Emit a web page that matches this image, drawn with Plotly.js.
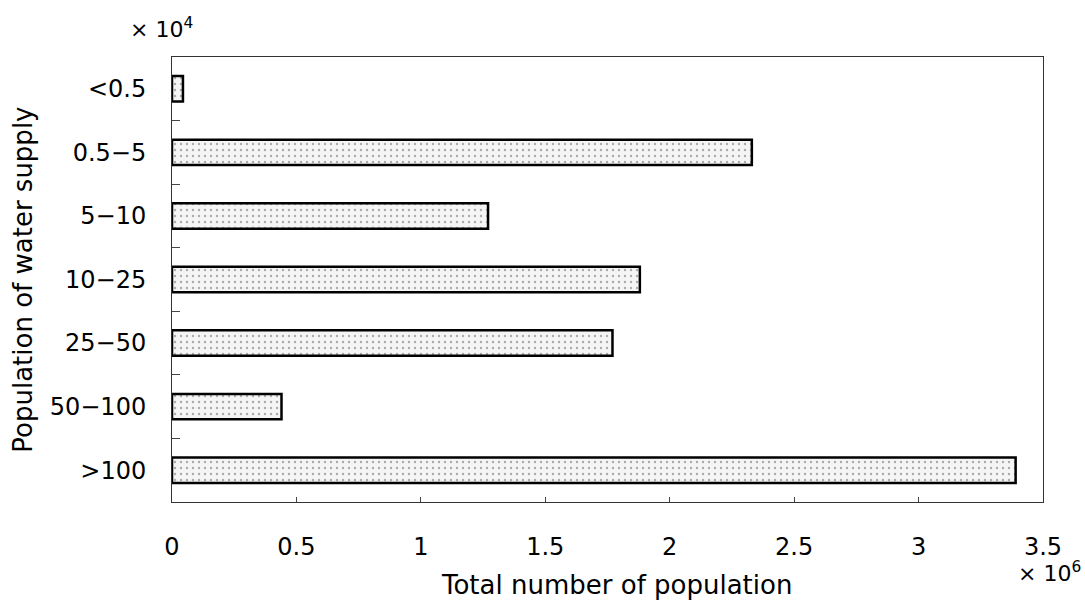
<!DOCTYPE html>
<html>
<head>
<meta charset="utf-8">
<script src="https://cdn.plot.ly/plotly-3.0.1.min.js"></script>
<style>html,body{margin:0;padding:0;background:#fff;}#chart{width:1085px;height:603px;}</style>
</head>
<body>
<div id="chart"></div>
<script>
const categories = ['<0.5', '0.5\u22125', '5\u221210', '10\u221225', '25\u221250', '50\u2212100', '>100'];
const totals = [0.044, 2.33, 1.27, 1.88, 1.77, 0.44, 3.39]; // ×10^6
const xTicks = [0, 0.5, 1, 1.5, 2, 2.5, 3, 3.5];
const xTickLabels = ['0', '0.5', '1', '1.5', '2', '2.5', '3', '3.5'];
const xTitle = 'Total number of population';
const yTitle = 'Population of water supply';

const font = 'DejaVu Sans, Noto Sans, sans-serif';

const trace = {
  type: 'bar',
  orientation: 'h',
  y: categories,
  x: totals,
  width: 0.4,
  marker: {
    color: '#f5f5f5',
    line: {color: '#000', width: 2.5},
    pattern: {shape: '.', fgcolor: '#aaa', bgcolor: '#f5f5f5', size: 6, solidity: 0.12}
  },
  hoverinfo: 'x+y'
};

const layout = {
  width: 1085, height: 603,
  margin: {l: 172, r: 42, t: 57, b: 101},
  paper_bgcolor: '#fff', plot_bgcolor: '#fff',
  showlegend: false,
  font: {family: font, color: '#000', size: 24},
  xaxis: {
    range: [0, 3.5],
    tickvals: xTicks, ticktext: xTickLabels,
    ticks: 'inside', ticklen: 5, tickcolor: '#444',
    showgrid: false, zeroline: false,
    showline: true, linecolor: '#333', linewidth: 1, mirror: true,
    tickfont: {family: font, size: 24},
    ticklabelstandoff: 23
  },
  yaxis: {
    type: 'category',
    categoryorder: 'array', categoryarray: categories,
    autorange: 'reversed',
    range: [6.5, -0.5],
    tickson: 'boundaries',
    ticks: 'inside', ticklen: 8, tickcolor: '#444',
    showgrid: false, zeroline: false,
    showline: true, linecolor: '#333', linewidth: 1, mirror: true,
    tickfont: {family: font, size: 24},
    ticklabelstandoff: 20
  },
  annotations: [
    {xref: 'paper', yref: 'paper', x: 0.51, y: -0.186, xanchor: 'center', yanchor: 'middle',
     text: xTitle, showarrow: false, font: {family: font, size: 26}},
    {xref: 'paper', yref: 'paper', x: -0.172, y: 0.5, xanchor: 'center', yanchor: 'middle', textangle: -90,
     text: yTitle, showarrow: false, font: {family: font, size: 26}},
    {xref: 'paper', yref: 'paper', x: -0.0505, y: 1.065, xanchor: 'left', yanchor: 'middle',
     text: '\u00d7 10<sup>4</sup>', showarrow: false, font: {family: font, size: 22}},
    {xref: 'paper', yref: 'paper', x: 1.008, y: -0.157, xanchor: 'center', yanchor: 'middle',
     text: '\u00d7 10<sup>6</sup>', showarrow: false, font: {family: font, size: 22}}
  ]
};

Plotly.newPlot('chart', [trace], layout, {displayModeBar: false, staticPlot: true});
</script>
</body>
</html>
